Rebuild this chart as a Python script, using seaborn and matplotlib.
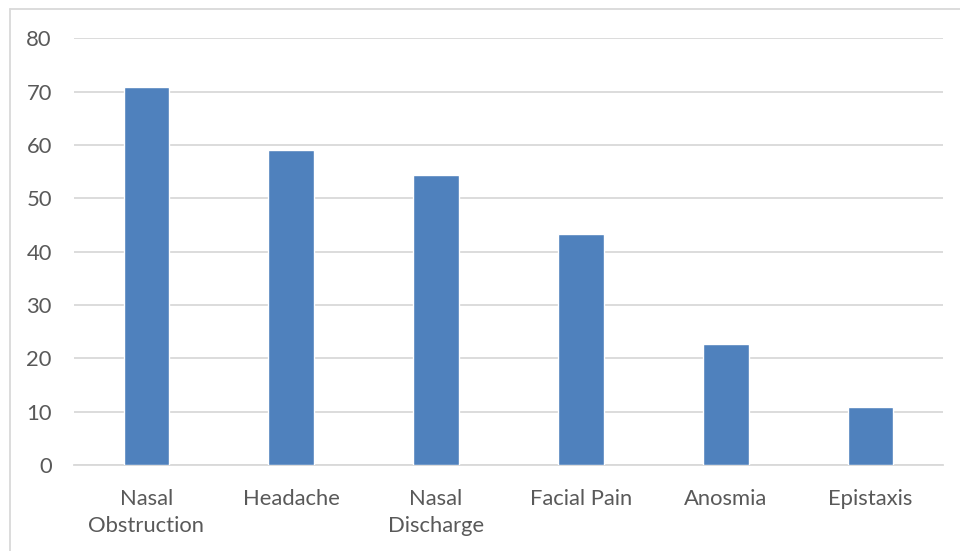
import matplotlib
matplotlib.use("Agg")
import matplotlib.pyplot as plt
from matplotlib.lines import Line2D
import seaborn as sns
import pandas as pd

symptoms = ["Nasal\nObstruction", "Headache", "Nasal\nDischarge",
            "Facial Pain", "Anosmia", "Epistaxis"]
percent = [70.8, 59.1, 54.4, 43.4, 22.7, 10.8]
y_ticks = [0, 10, 20, 30, 40, 50, 60, 70, 80]

df = pd.DataFrame({"symptom": symptoms, "percent": percent})

sns.set_theme(style="white")
plt.rcParams["font.family"] = ["Lato", "DejaVu Sans"]

W, H = 960, 551
fig = plt.figure(figsize=(W / 100, H / 100), dpi=100)
ax = fig.add_axes([74 / W, 1 - 465 / H, (943 - 74) / W, (465 - 38.3) / H])

sns.barplot(data=df, x="symptom", y="percent", color="#4F81BD",
            saturation=1, width=0.315, ax=ax, zorder=3)

ax.set_ylim(0, 80)
ax.set_yticks(y_ticks)
ax.set_xlim(-0.5, len(symptoms) - 0.5)
ax.yaxis.grid(True, color="#D9D9D9", linewidth=1.3, zorder=0)
ax.set_axisbelow(True)
for side in ["top", "right", "left"]:
    ax.spines[side].set_visible(False)
ax.spines["bottom"].set_color("#D9D9D9")
ax.spines["bottom"].set_linewidth(1.3)
ax.set_xlabel("")
ax.set_ylabel("")
ax.tick_params(axis="y", length=0, pad=16, labelsize=15.8, labelcolor="#595959")
ax.tick_params(axis="x", length=0, pad=17, labelsize=15.8, labelcolor="#595959")
for lbl in ax.get_xticklabels():
    lbl.set_linespacing(1.45)

# thin frame along the top and left of the chart area
fig.add_artist(Line2D([10 / W, 10 / W], [0, 1 - 9 / H], transform=fig.transFigure,
                      color="#D9D9D9", linewidth=1.3))
fig.add_artist(Line2D([10 / W, 1], [1 - 9 / H, 1 - 9 / H], transform=fig.transFigure,
                      color="#D9D9D9", linewidth=1.3))

fig.savefig("out.png", dpi=100)
